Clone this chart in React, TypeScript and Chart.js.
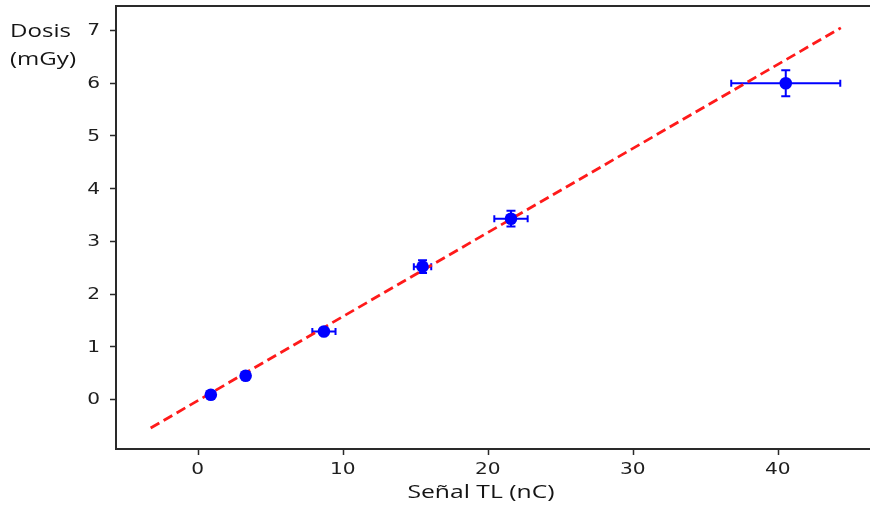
import React, { useEffect, useRef } from 'react';
import { Chart, registerables } from 'chart.js';

Chart.register(...registerables);

// ---- data ----
const signalX = [0.9, 3.3, 8.7, 15.5, 21.6, 40.55];
const doseY = [0.08, 0.44, 1.28, 2.51, 3.42, 5.99];
const signalErr = [0.1, 0.2, 0.8, 0.6, 1.15, 3.76];
const doseErr = [0.01, 0.02, 0.03, 0.12, 0.15, 0.245];
const fitX = [-3.25, 44.35];
const fitY = [-0.55, 7.04];
const xTickValues = [0, 10, 20, 30, 40];
const yTickValues = [0, 1, 2, 3, 4, 5, 6, 7];
const xTitle = 'Señal TL (nC)';
const yTitleLines = ['Dosis', '(mGy)'];

const STRETCH = 1.3;

const errorBars = {
  id: 'errorBars',
  beforeDatasetsDraw(chart: any) {
    const { ctx, scales } = chart;
    const x = scales.x;
    const y = scales.y;
    ctx.save();
    ctx.strokeStyle = '#0000ff';
    ctx.lineWidth = 2;
    signalX.forEach((sx, i) => {
      const px = x.getPixelForValue(sx);
      const py = y.getPixelForValue(doseY[i]);
      const x0 = x.getPixelForValue(sx - signalErr[i]);
      const x1 = x.getPixelForValue(sx + signalErr[i]);
      const y0 = y.getPixelForValue(doseY[i] - doseErr[i]);
      const y1 = y.getPixelForValue(doseY[i] + doseErr[i]);
      ctx.beginPath();
      ctx.moveTo(x0, py); ctx.lineTo(x1, py);
      ctx.moveTo(x0, py - 3.5); ctx.lineTo(x0, py + 3.5);
      ctx.moveTo(x1, py - 3.5); ctx.lineTo(x1, py + 3.5);
      ctx.moveTo(px, y0); ctx.lineTo(px, y1);
      ctx.moveTo(px - 4.5, y0); ctx.lineTo(px + 4.5, y0);
      ctx.moveTo(px - 4.5, y1); ctx.lineTo(px + 4.5, y1);
      ctx.stroke();
    });
    ctx.restore();
  },
};

const frameAndText = {
  id: 'frameAndText',
  afterDraw(chart: any) {
    const { ctx, chartArea: a, scales } = chart;
    const x = scales.x;
    const y = scales.y;
    ctx.save();
    // frame (top, left, bottom)
    ctx.strokeStyle = '#2a2a2a';
    ctx.lineWidth = 2;
    ctx.beginPath();
    ctx.moveTo(a.right + 2, a.top);
    ctx.lineTo(a.left, a.top);
    ctx.lineTo(a.left, a.bottom);
    ctx.lineTo(a.right + 2, a.bottom);
    ctx.stroke();
    // tick marks
    ctx.lineWidth = 1.5;
    ctx.beginPath();
    xTickValues.forEach((v) => {
      const px = Math.round(x.getPixelForValue(v)) + 0.5;
      ctx.moveTo(px, a.bottom);
      ctx.lineTo(px, a.bottom + 6);
    });
    yTickValues.forEach((v) => {
      const py = Math.round(y.getPixelForValue(v)) + 0.5;
      ctx.moveTo(a.left - 6, py);
      ctx.lineTo(a.left, py);
    });
    ctx.stroke();

    // tick labels
    ctx.fillStyle = '#1e1e1e';
    ctx.font = '15.5px "DejaVu Sans"';
    ctx.textBaseline = 'alphabetic';
    xTickValues.forEach((v) => {
      const px = x.getPixelForValue(v);
      ctx.save();
      ctx.translate(px, 474);
      ctx.scale(STRETCH, 1);
      ctx.textAlign = 'center';
      ctx.fillText(String(v), 0, 0);
      ctx.restore();
    });
    yTickValues.forEach((v) => {
      const py = y.getPixelForValue(v);
      ctx.save();
      ctx.translate(100, py + 5.5);
      ctx.scale(STRETCH, 1);
      ctx.textAlign = 'right';
      ctx.fillText(String(v), 0, 0);
      ctx.restore();
    });

    // axis titles
    ctx.fillStyle = '#141414';
    ctx.font = '19px "Open Sans"';
    ctx.save();
    ctx.translate(481, 498);
    ctx.scale(STRETCH, 1);
    ctx.textAlign = 'center';
    ctx.fillText(xTitle, 0, 0);
    ctx.restore();

    ctx.font = '18.5px "Open Sans"';
    const baselines = [37, 65];
    yTitleLines.forEach((t, i) => {
      ctx.save();
      ctx.translate(10, baselines[i]);
      ctx.scale(STRETCH, 1);
      ctx.textAlign = 'left';
      ctx.fillText(t, 0, 0);
      ctx.restore();
    });
    ctx.restore();
  },
};

export default function App() {
  const ref = useRef<HTMLCanvasElement | null>(null);
  useEffect(() => {
    if (!ref.current) return;
    const chart = new Chart(ref.current, {
      type: 'scatter',
      data: {
        datasets: [
          {
            type: 'scatter',
            label: 'Medidas',
            data: signalX.map((sx, i) => ({ x: sx, y: doseY[i] })),
            pointRadius: 6.3,
            pointHoverRadius: 6.3,
            backgroundColor: '#0000ff',
            borderWidth: 0,
            order: 0,
          } as any,
          {
            type: 'line',
            label: 'Ajuste',
            data: fitX.map((fx, i) => ({ x: fx, y: fitY[i] })),
            borderColor: '#ff1a1a',
            borderWidth: 2.8,
            borderDash: [10, 5],
            pointRadius: 0,
            fill: false,
            order: 1,
          } as any,
        ],
      },
      options: {
        animation: false,
        responsive: false,
        layout: { autoPadding: false, padding: { top: 6, left: 0, right: 0, bottom: 0 } },
        plugins: { legend: { display: false }, tooltip: { enabled: false } },
        scales: {
          x: {
            type: 'linear',
            min: -5.64,
            max: 46.36,
            grid: { display: false },
            border: { display: false },
            ticks: { display: false },
            afterFit: (s: any) => { s.height = 60; },
          },
          y: {
            type: 'linear',
            min: -0.949,
            max: 7.455,
            grid: { display: false },
            border: { display: false },
            ticks: { display: false },
            afterFit: (s: any) => { s.width = 116; },
          },
        },
      } as any,
      plugins: [errorBars, frameAndText],
    });
    return () => chart.destroy();
  }, []);

  return (
    <div style={{ position: 'absolute', left: 0, top: 0, width: 870, height: 509, background: '#fff' }}>
      <canvas ref={ref} width={870} height={509} style={{ display: 'block' }} />
    </div>
  );
}
